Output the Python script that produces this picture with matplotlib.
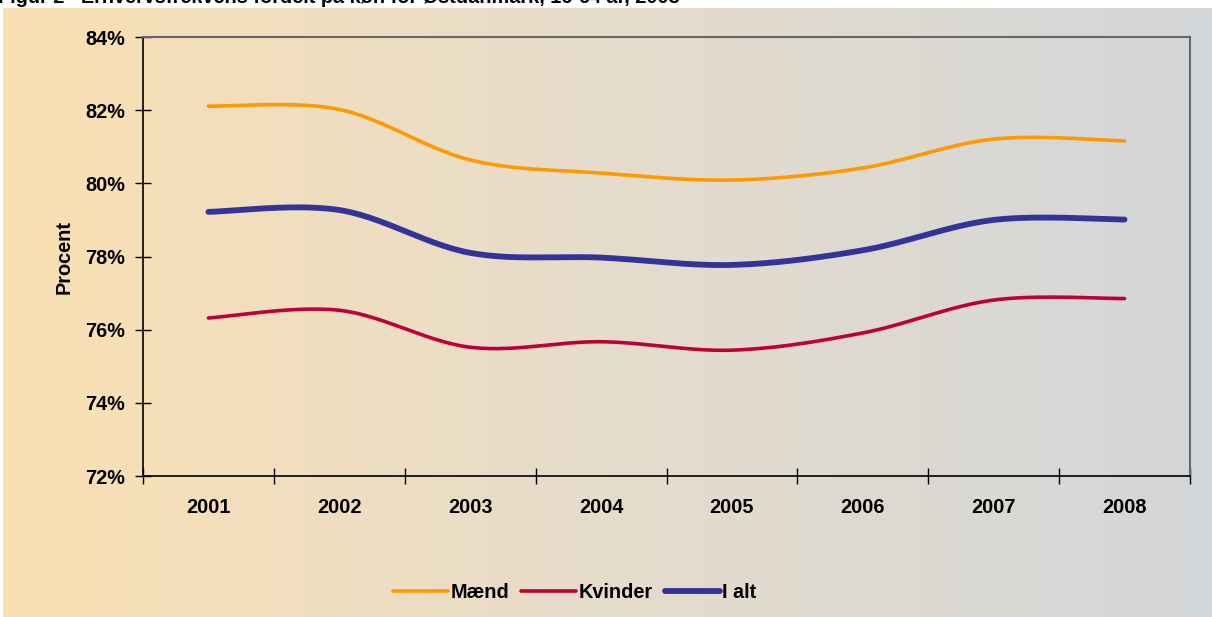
import numpy as np
import matplotlib
matplotlib.use("Agg")
import matplotlib.pyplot as plt
from matplotlib.colors import LinearSegmentedColormap

plt.rcParams['font.family'] = ['Liberation Sans', 'DejaVu Sans']
plt.rcParams['font.weight'] = 'bold'

years = ['2001', '2002', '2003', '2004', '2005', '2006', '2007', '2008']
maend = [82.11, 82.02, 80.64, 80.28, 80.09, 80.42, 81.21, 81.16]
kvinder = [76.32, 76.53, 75.52, 75.67, 75.44, 75.91, 76.81, 76.85]
i_alt = [79.22, 79.27, 78.10, 77.97, 77.77, 78.17, 79.00, 79.01]

FS = 14.3


def smooth(x, y, n=30):
    # Excel-like smoothed line (Catmull-Rom through the points)
    x = np.asarray(x, float)
    y = np.asarray(y, float)
    px = np.concatenate([[x[0]], x, [x[-1]]])
    py = np.concatenate([[y[0]], y, [y[-1]]])
    xs, ys = [], []
    t = np.linspace(0, 1, n)
    for i in range(1, len(px) - 2):
        p0 = np.array([px[i], py[i]])
        p3 = np.array([px[i + 1], py[i + 1]])
        c1 = p0 + (np.array([px[i + 1], py[i + 1]]) - np.array([px[i - 1], py[i - 1]])) / 6
        c2 = p3 - (np.array([px[i + 2], py[i + 2]]) - np.array([px[i], py[i]])) / 6
        b = ((1 - t) ** 3)[:, None] * p0 + (3 * (1 - t) ** 2 * t)[:, None] * c1 \
            + (3 * (1 - t) * t ** 2)[:, None] * c2 + (t ** 3)[:, None] * p3
        xs.extend(b[:, 0])
        ys.extend(b[:, 1])
    return np.array(xs), np.array(ys)


fig = plt.figure(figsize=(12.12, 6.17), dpi=100)

# gradient background
bg = fig.add_axes([3 / 1212, 0, 1 - 3 / 1212, 1 - 8 / 617])
cmap = LinearSegmentedColormap.from_list('bg', ['#fae0b3', '#e6dccb', '#d3d6d9'])
bg.imshow(np.linspace(0, 1, 256).reshape(1, -1), aspect='auto', cmap=cmap,
          extent=[0, 1, 0, 1])
bg.axis('off')

# title sits partly above the top edge, as in the source image
fig.text(-2 / 1212, 1 - 3 / 617, 'Figur 2   Erhvervsfrekvens fordelt på køn for Østdanmark, 16-64 år, 2008',
         fontsize=FS, fontweight='bold', va='baseline', ha='left')

ax = fig.add_axes([143 / 1212, 1 - 476 / 617, (1190 - 143) / 1212, (476 - 37) / 617])
ax.patch.set_alpha(0)

xpos = np.arange(len(years))
for vals, col, lw, lab in [(maend, '#ff9900', 2.6, 'Mænd'),
                           (kvinder, '#be0038', 2.6, 'Kvinder'),
                           (i_alt, '#333399', 4.2, 'I alt')]:
    sx, sy = smooth(xpos, vals)
    ax.plot(sx, sy, color=col, lw=lw, solid_capstyle='round', label=lab)

ax.set_xlim(-0.5, len(years) - 0.5)
ax.set_ylim(72, 84)
ax.set_yticks(np.arange(72, 85, 2))
ax.set_yticklabels([f'{v}%' for v in range(72, 85, 2)])
ax.set_xticks(np.arange(-0.5, len(years), 1))
ax.set_xticklabels([])
ax.set_xticks(xpos, minor=True)
ax.set_xticklabels(years, minor=True)
ax.tick_params(axis='y', direction='inout', length=12, width=1, pad=7, labelsize=FS)
ax.tick_params(axis='x', which='major', direction='inout', length=12, width=1)
ax.tick_params(axis='x', which='minor', length=0, pad=16, labelsize=FS)
for s in ['left', 'bottom']:
    ax.spines[s].set_color('black')
    ax.spines[s].set_linewidth(1.2)
for s in ['top', 'right']:
    ax.spines[s].set_color('#666666')
    ax.spines[s].set_linewidth(1.5)

ax.set_ylabel('Procent', fontsize=FS, fontweight='bold', labelpad=8)

fig.legend(loc='center', bbox_to_anchor=(0.474, 0.039), ncol=3, frameon=False,
           fontsize=FS, handlelength=2.8, handletextpad=0.1, columnspacing=0.6)

fig.savefig('out.png', dpi=100)
